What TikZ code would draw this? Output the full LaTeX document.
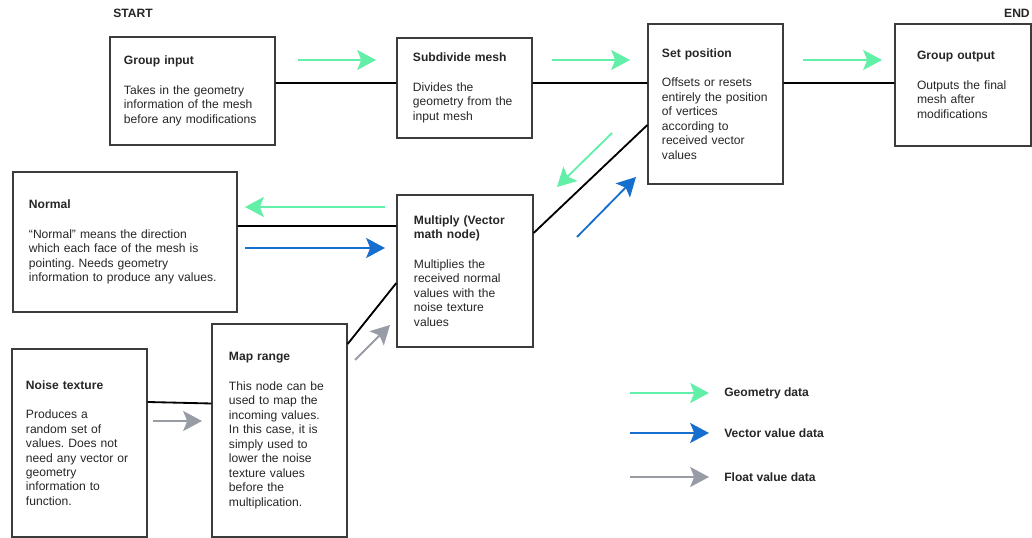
\documentclass[tikz,border=0pt]{standalone}
\usepackage{fontspec}
\setmainfont{Liberation Sans}
\usetikzlibrary{arrows.meta,positioning}
\definecolor{geogreen}{RGB}{98,240,168}
\definecolor{vecblue}{RGB}{22,110,206}
\definecolor{fltgray}{RGB}{152,156,164}
\definecolor{boxline}{RGB}{60,60,60}
\frenchspacing

\begin{document}
\begin{tikzpicture}[x=0.025cm, y=-0.025cm,
  every node/.style={font=\fontsize{8.6}{10.3}\selectfont, text=black!85},
  blk/.style ={draw=boxline, line width=0.9pt, align=left, inner ysep=0pt},
  link/.style={black, line width=1.3pt},
  flow/.style={line width=1.3pt, -{Stealth[length=0.47cm, width=0.5cm, inset=0.1cm]}},
  geo/.style ={flow, geogreen},
  vec/.style ={flow, vecblue},
  flt/.style ={flow, fltgray},
  hdr/.style ={font=\fontsize{8.6}{10.3}\selectfont\bfseries, inner sep=0pt}
]
\useasboundingbox (0,0) rectangle (1032,538);

%% start / end
\node[hdr, anchor=west] (start) at (113,13) {START};
\node[hdr, anchor=east] (fin)   at (1030,13) {END};

%% nodes of the graph
\node[blk, text width=3.425cm, inner xsep=0.35cm, minimum height=2.7cm] (gin) at (192.5,91)
  {\textbf{Group input}\\[10.6pt]Takes in the geometry\\information of the mesh\\before any modifications};
\node[blk, text width=2.575cm, inner xsep=0.4cm, minimum height=2.5cm] (sub) at (464.5,88)
  {\textbf{Subdivide mesh}\\[10.6pt]Divides the\\geometry from the\\input mesh};
\node[blk, text width=2.675cm, inner xsep=0.35cm, minimum height=4cm] (setp) at (715.5,104)
  {\textbf{Set position}\\[10.6pt]Offsets or resets\\entirely the position\\of vertices\\according to\\received vector\\values};
\node[blk, text width=2.3cm, inner xsep=0.55cm, minimum height=3.05cm] (gout) at (963,85)
  {\textbf{Group output}\\[10.6pt]Outputs the final\\mesh after\\modifications};
\node[blk, text width=4.8cm, inner xsep=0.4cm, minimum height=3.5cm] (nrm) at (125,242)
  {\textbf{Normal}\\[10.6pt]“Normal” means the direction\\which each face of the mesh is\\pointing. Needs geometry\\information to produce any values.};
\node[blk, text width=2.55cm, inner xsep=0.425cm, minimum height=3.8cm] (mul) at (465,271)
  {\textbf{Multiply (Vector}\\\textbf{math node)}\\[10.6pt]Multiplies the\\received normal\\values with the\\noise texture\\values};
\node[blk, text width=2.675cm, inner xsep=0.35cm, minimum height=4.7cm] (noise) at (79.5,443)
  {\textbf{Noise texture}\\[10.6pt]Produces a\\random set of\\values. Does not\\need any vector or\\geometry\\information to\\function.};
\node[blk, text width=2.525cm, inner xsep=0.425cm, minimum height=5.325cm] (mapr) at (279.5,430.5)
  {\textbf{Map range}\\[10.6pt]This node can be\\used to map the\\incoming values.\\In this case, it is\\simply used to\\lower the noise\\texture values\\before the\\multiplication.};

%% links
\foreach \a/\ya/\b/\yb in {gin/0.2/sub/0.125, sub/0.125/setp/0.525, setp/0.525/gout/0.05,
                           nrm/0.4/mul/1.125, mul/0.95/setp/-0.525, mapr/2.1625/mul/-0.3,
                           noise/1.025/mapr/0.675}
  \draw[link] ([yshift=\ya cm]\a.east) -- ([yshift=\yb cm]\b.west);

%% data-flow arrows
\foreach \n/\x/\y in {ga/298/60, gb/376/60, gc/552/60, gd/630/60, ge/803/60, gf/882/60,
                      gg/612/133, gh/557/187, gi/385/207, gj/245/207,
                      va/245/248, vb/385/248, vc/577/237, vd/636/177,
                      fa/355/360, fb/390/325, fc/153/421, fd/202/421}
  \coordinate (\n) at (\x,\y);
\foreach \s/\a/\b in {geo/ga/gb, geo/gc/gd, geo/ge/gf, geo/gg/gh, geo/gi/gj,
                      vec/va/vb, vec/vc/vd, flt/fa/fb, flt/fc/fd}
  \draw[\s] (\a) -- (\b);

%% legend
\foreach \s/\n/\t/\y in {geo/lgeo/Geometry data/393, vec/lvec/Vector value data/433,
                         flt/lflt/Float value data/477} {
  \node[hdr, anchor=west] (\n) at (724,\y) {\t};
  \draw[\s] ([xshift=-2.35cm]\n.west) -- ([xshift=-0.375cm]\n.west);
}
\end{tikzpicture}
\end{document}
